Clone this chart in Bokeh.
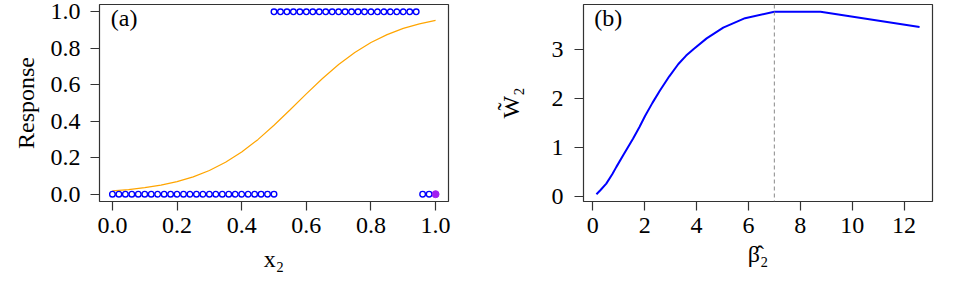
from bokeh.plotting import figure
from bokeh.layouts import row
from bokeh.models import Range1d, FixedTicker, Label, Span
from bokeh.embed import file_html
from bokeh.resources import INLINE

# ---------------- data: panel (a) ----------------
x_zero_left = [0.00, 0.02, 0.04, 0.06, 0.08, 0.10, 0.12, 0.14, 0.16, 0.18, 0.20, 0.22, 0.24,
               0.26, 0.28, 0.30, 0.32, 0.34, 0.36, 0.38, 0.40, 0.42, 0.44, 0.46, 0.48, 0.50]
y_zero_left = [0.0] * len(x_zero_left)
x_one = [0.50, 0.52, 0.54, 0.56, 0.58, 0.60, 0.62, 0.64, 0.66, 0.68, 0.70, 0.72,
         0.74, 0.76, 0.78, 0.80, 0.82, 0.84, 0.86, 0.88, 0.90, 0.92, 0.94]
y_one = [1.0] * len(x_one)
x_zero_right = [0.96, 0.98]
y_zero_right = [0.0, 0.0]
x_highlight = [1.0]
y_highlight = [0.0]

fit_x = [0.00, 0.05, 0.10, 0.15, 0.20, 0.25, 0.30, 0.35, 0.40, 0.45, 0.50,
         0.55, 0.60, 0.65, 0.70, 0.75, 0.80, 0.85, 0.90, 0.95, 1.00]
fit_y = [0.018, 0.025, 0.036, 0.050, 0.069, 0.095, 0.130, 0.175, 0.231, 0.299, 0.378,
         0.463, 0.550, 0.634, 0.711, 0.777, 0.832, 0.875, 0.909, 0.934, 0.953]

a_xticks = [0.0, 0.2, 0.4, 0.6, 0.8, 1.0]
a_xlabels = ["0.0", "0.2", "0.4", "0.6", "0.8", "1.0"]
a_yticks = [0.0, 0.2, 0.4, 0.6, 0.8, 1.0]
a_ylabels = ["0.0", "0.2", "0.4", "0.6", "0.8", "1.0"]

# ---------------- data: panel (b) ----------------
beta_hat = [0.14, 0.30, 0.52, 0.75, 0.91, 1.20, 1.55, 1.80, 2.02, 2.30, 2.59, 2.95,
            3.30, 3.60, 3.88, 4.39, 5.03, 5.87, 7.00, 8.78, 12.60]
w_tilde = [0.055, 0.14, 0.27, 0.46, 0.61, 0.87, 1.18, 1.42, 1.65, 1.91, 2.16, 2.45,
           2.70, 2.87, 3.00, 3.22, 3.44, 3.63, 3.76, 3.76, 3.45]
vline_x = 7.0

b_xticks = [0, 2, 4, 6, 8, 10, 12]
b_xlabels = ["0", "2", "4", "6", "8", "10", "12"]
b_yticks = [0, 1, 2, 3]
b_ylabels = ["0", "1", "2", "3"]

FONT = "Liberation Serif"
FS = "24px"


def r_range(vals):
    lo, hi = min(vals), max(vals)
    pad = 0.04 * (hi - lo)
    return Range1d(lo - pad, hi + pad)


def style(p, xticks, xlabels, yticks, ylabels, xstand, ystand, xlab_stand, ylab_stand):
    p.outline_line_color = "#333333"
    p.outline_line_width = 1.2
    p.xgrid.visible = False
    p.ygrid.visible = False
    p.background_fill_color = "white"
    p.border_fill_color = "white"
    for ax, ticks, labels, st, lst in ((p.xaxis[0], xticks, xlabels, xstand, xlab_stand),
                                       (p.yaxis[0], yticks, ylabels, ystand, ylab_stand)):
        ax.ticker = FixedTicker(ticks=ticks)
        ax.major_label_overrides = {t: l for t, l in zip(ticks, labels)}
        ax.axis_line_color = None
        ax.major_tick_in = 0
        ax.major_tick_out = 9
        ax.major_tick_line_color = "#333333"
        ax.major_tick_line_width = 1.2
        ax.minor_tick_line_color = None
        ax.major_label_text_font = FONT
        ax.major_label_text_font_size = FS
        ax.major_label_text_color = "black"
        ax.major_label_standoff = st
        ax.axis_label_text_font = FONT
        ax.axis_label_text_font_size = FS
        ax.axis_label_text_font_style = "normal"
        ax.axis_label_text_color = "black"
        ax.axis_label_standoff = lst
    p.yaxis[0].major_label_orientation = "horizontal"


# ---------------- panel (a) ----------------
p1 = figure(width=480, height=291, output_backend="svg", toolbar_location=None,
            x_range=r_range(x_zero_left + x_one + x_zero_right + x_highlight),
            y_range=r_range(y_zero_left + y_one),
            min_border_left=99, min_border_right=32, min_border_top=4, min_border_bottom=90,
            x_axis_label="x₂", y_axis_label="Response")
p1.frame_width = 349
p1.frame_height = 197
style(p1, a_xticks, a_xlabels, a_yticks, a_ylabels, 7, 10, 10, 9)

p1.line(fit_x, fit_y, line_color="#FFA500", line_width=1.2)
for xs, ys in ((x_zero_left, y_zero_left), (x_one, y_one), (x_zero_right, y_zero_right)):
    p1.scatter(xs, ys, size=5.6, fill_color=None, line_color="#0000FF", line_width=1.4)
p1.scatter(x_highlight, y_highlight, size=7, fill_color="#A020F0", line_color="#A020F0", line_width=1)
p1.add_layout(Label(x=-0.005, y=0.967, text="(a)", text_font=FONT, text_font_size=FS,
                    text_baseline="middle", text_align="left", text_color="black"))

# ---------------- panel (b) ----------------
p2 = figure(width=489, height=291, output_backend="svg", toolbar_location=None,
            x_range=r_range(beta_hat), y_range=r_range(w_tilde),
            min_border_left=103, min_border_right=37, min_border_top=4, min_border_bottom=90,
            x_axis_label="β̂₂", y_axis_label="W̃₂")
p2.frame_width = 349
p2.frame_height = 197
style(p2, b_xticks, b_xlabels, b_yticks, b_ylabels, 7, 11, 5, 25)

p2.add_layout(Span(location=vline_x, dimension="height", line_color="#888888",
                   line_width=1, line_dash="4 3"))
p2.line(beta_hat, w_tilde, line_color="#0000FF", line_width=2)
p2.add_layout(Label(x=0.06, y=3.63, text="(b)", text_font=FONT, text_font_size=FS,
                    text_baseline="middle", text_align="left", text_color="black"))

layout = row(p1, p2)
open("out.html", "w").write(file_html(layout, INLINE))
